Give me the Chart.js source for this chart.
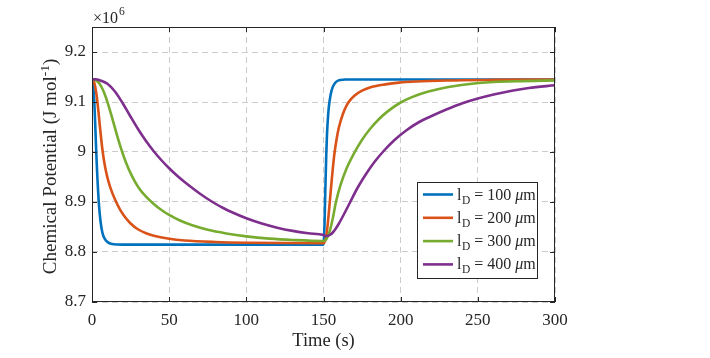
<!DOCTYPE html>
<html><head><meta charset="utf-8">
<script src="https://cdn.jsdelivr.net/npm/chart.js@4.4.0/dist/chart.umd.min.js"></script>
<style>html,body{margin:0;padding:0;background:#fff}canvas{display:block}</style>
</head><body>
<canvas id="c" width="710" height="358"></canvas>
<script>
// ---- data (values in units of 10^6 J/mol) ----
const legendLengths = ['100', '200', '300', '400'];

const t100 = [0,0.5,1,1.5,2,2.5,3,3.5,4,4.6,5.5,6.5,7.5,9,11,13,16,20,60,100,150,150.3,150.7,151,151.4,151.8,152.2,152.7,153.3,154,155,156,157.5,159,161,164,200,250,300];
const v100 = [9.145,9.14,9.125,9.1,9.0625,9.02,8.982,8.948,8.919,8.891,8.862,8.842,8.831,8.823,8.818,8.816,8.815,8.8148,8.8148,8.8148,8.8148,8.825,8.86,8.9,8.95,8.995,9.03,9.06,9.085,9.103,9.12,9.13,9.138,9.142,9.144,9.145,9.145,9.145,9.145];

const t200 = [0,1,2,3,4,5,6,7,8.5,10,12,15,18,21,25,30,35,40,50,60,80,100,150,151,152,153,154,155,156,157,158.5,160,162.5,165,167,170,175,181,190,199,210,230,260,300];
const v200 = [9.145,9.142,9.132,9.113,9.086,9.055,9.025,8.999,8.9698,8.9488,8.9278,8.9044,8.8858,8.8714,8.857,8.845,8.8375,8.8325,8.8265,8.823,8.82,8.8186,8.8176,8.8216,8.8356,8.8636,8.8976,8.9326,8.9656,8.9946,9.0261,9.0494,9.0756,9.0931,9.1027,9.1126,9.1226,9.1298,9.1352,9.1388,9.141,9.143,9.1442,9.145];

const t300 = [0,2,4,6,8,10,13,16,19,22,26,30,35,40,45,50,57,65,75,87,100,115,130,150,151,152,154,156,158,161,165,170,175,180,186,192,200,210,218,230,249,275,300];
const v300 = [9.145,9.144,9.14,9.131,9.1174,9.0998,9.0689,9.0359,9.0053,8.9792,8.9512,8.9296,8.9106,8.8961,8.8841,8.8741,8.8629,8.8533,8.8443,8.8371,8.8313,8.8268,8.8241,8.8221,8.8231,8.8261,8.8411,8.8671,8.8991,8.9336,8.9676,8.9986,9.0246,9.0456,9.066,9.0822,9.099,9.113,9.121,9.1296,9.1376,9.1415,9.1433];

const t400 = [0,2.5,5,10,15,20,25,30,35,40,45,50,55,60,65,70,75,80,85,90,100,110,120,130,140,150,151,152,153,154,156,158,160,163,167,172,178,183,189,196,204,212,219,230,240,250,261,272,283,300];
const v400 = [9.145,9.1456,9.1435,9.1365,9.1205,9.097,9.0705,9.045,9.022,9.0015,8.9835,8.9675,8.953,8.94,8.928,8.9165,8.906,8.8965,8.888,8.8805,8.8675,8.857,8.8487,8.8423,8.8375,8.8339,8.8325,8.832,8.8325,8.834,8.839,8.847,8.857,8.874,8.898,8.928,8.958,8.98,9.002,9.024,9.044,9.06,9.0705,9.0855,9.0975,9.107,9.1155,9.1225,9.128,9.1335];

const xTicks = [0,50,100,150,200,250,300];
const xTickLabels = ['0','50','100','150','200','250','300'];
const yTicks = [8.7,8.8,8.9,9.0,9.1,9.2];
const yTickLabels = ['8.7','8.8','8.9','9','9.1','9.2'];

const xTitle = 'Time (s)';
const yTitleMain = 'Chemical Potential (J mol';
const yTitleSup = '-1';
const yTitleEnd = ')';
const exponentBase = '\u00d710';
const exponentSup = '6';

const colors = ['#0072BD','#D95319','#77AC30','#7E2F8E'];
const FONT = "'Liberation Serif', 'Times New Roman', serif";
const TEXT = '#262626';

const times = [t100, t200, t300, t400];
const values = [v100, v200, v300, v400];

const datasets = values.map((vals, i) => ({
  label: 'lD = ' + legendLengths[i] + ' \u03bcm',
  data: vals.map((v, k) => ({x: times[i][k], y: v})),
  borderColor: colors[i],
  backgroundColor: colors[i],
  borderWidth: 2.6,
  pointRadius: 0,
  fill: false,
  cubicInterpolationMode: 'monotone',
  order: 3 - i
}));

const deco = {
  id: 'deco',
  afterDatasetsDraw(chart) {
    const {ctx, chartArea: a, scales: {x, y}} = chart;
    ctx.save();
    ctx.strokeStyle = TEXT;
    ctx.lineWidth = 1;
    ctx.strokeRect(a.left + 0.5, a.top + 0.5, a.right - a.left - 1, a.bottom - a.top - 1);
    const tl = 5;
    ctx.beginPath();
    xTicks.forEach(v => {
      const px = Math.round(x.getPixelForValue(v)) + 0.5;
      ctx.moveTo(px, a.bottom); ctx.lineTo(px, a.bottom - tl);
      ctx.moveTo(px, a.top); ctx.lineTo(px, a.top + tl);
    });
    yTicks.forEach(v => {
      const py = Math.round(y.getPixelForValue(v)) + 0.5;
      ctx.moveTo(a.left, py); ctx.lineTo(a.left + tl, py);
      ctx.moveTo(a.right, py); ctx.lineTo(a.right - tl, py);
    });
    ctx.stroke();
    ctx.restore();
  },
  afterDraw(chart) {
    const {ctx, chartArea: a} = chart;
    ctx.save();
    ctx.fillStyle = TEXT;
    // x title
    ctx.font = '18.5px ' + FONT;
    ctx.textAlign = 'center';
    ctx.textBaseline = 'middle';
    ctx.fillText(xTitle, (a.left + a.right) / 2, 341);
    // y title (rotated, with superscript)
    ctx.save();
    ctx.translate(50, (a.top + a.bottom) / 2 + 2);
    ctx.rotate(-Math.PI / 2);
    ctx.font = '19px ' + FONT;
    const w1 = ctx.measureText(yTitleMain).width;
    const w3 = ctx.measureText(yTitleEnd).width;
    ctx.font = '13.5px ' + FONT;
    const w2 = ctx.measureText(yTitleSup).width;
    const total = w1 + w2 + w3;
    let sx = -total / 2;
    ctx.textAlign = 'left';
    ctx.textBaseline = 'alphabetic';
    ctx.font = '19px ' + FONT;
    ctx.fillText(yTitleMain, sx, 6);
    ctx.font = '13.5px ' + FONT;
    ctx.fillText(yTitleSup, sx + w1, -1);
    ctx.font = '19px ' + FONT;
    ctx.fillText(yTitleEnd, sx + w1 + w2, 6);
    ctx.restore();
    // exponent
    ctx.textAlign = 'left';
    ctx.textBaseline = 'alphabetic';
    ctx.font = '16px ' + FONT;
    ctx.fillText(exponentBase, a.left + 1, 23);
    const we = ctx.measureText(exponentBase).width;
    ctx.font = '11.5px ' + FONT;
    ctx.fillText(exponentSup, a.left + 1 + we + 1, 15);
    // legend
    const bx = a.right - 18, by = a.bottom - 24;
    const bw = 120, bh = 96;
    const L = bx - bw, T = by - bh;
    ctx.fillStyle = '#ffffff';
    ctx.fillRect(L, T, bw, bh);
    ctx.strokeStyle = TEXT;
    ctx.lineWidth = 1;
    ctx.strokeRect(L + 0.5, T + 0.5, bw, bh);
    legendLengths.forEach((len, i) => {
      const ry = T + 12.5 + i * 23.3;
      ctx.strokeStyle = colors[i];
      ctx.lineWidth = 2.6;
      ctx.beginPath();
      ctx.moveTo(L + 6, ry); ctx.lineTo(L + 36, ry);
      ctx.stroke();
      ctx.fillStyle = TEXT;
      let tx = L + 40;
      const base = ry + 5;
      ctx.font = '16px ' + FONT;
      ctx.fillText('l', tx, base); tx += ctx.measureText('l').width + 0.5;
      ctx.font = '11.5px ' + FONT;
      ctx.fillText('D', tx, base + 4); tx += ctx.measureText('D').width;
      ctx.font = '16px ' + FONT;
      const mid = ' = ' + len + ' ';
      ctx.fillText(mid, tx, base); tx += ctx.measureText(mid).width;
      ctx.font = 'italic 16px ' + FONT;
      ctx.fillText('\u03bc', tx, base); tx += ctx.measureText('\u03bc').width;
      ctx.font = '16px ' + FONT;
      ctx.fillText('m', tx, base);
    });
    ctx.restore();
  }
};

new Chart(document.getElementById('c'), {
  type: 'line',
  data: {datasets},
  plugins: [deco],
  options: {
    responsive: false,
    animation: false,
    devicePixelRatio: 1,
    layout: {padding: {left: 0, right: 155, top: 27, bottom: 0}},
    plugins: {legend: {display: false}, tooltip: {enabled: false}},
    scales: {
      x: {
        type: 'linear', min: 0, max: 300,
        afterBuildTicks: s => { s.ticks = xTicks.map(v => ({value: v})); },
        afterFit: s => { s.height = 56; },
        grid: {color: '#cccccc', lineWidth: 1, drawTicks: false},
        border: {display: false, dash: [6, 4]},
        ticks: {padding: 8, color: TEXT, font: {family: FONT, size: 17}, maxRotation: 0, autoSkip: false,
                callback: (v, i) => xTickLabels[i]}
      },
      y: {
        type: 'linear', min: 8.7, max: 9.25,
        afterBuildTicks: s => { s.ticks = yTicks.map(v => ({value: v})); },
        afterFit: s => { s.width = 92; },
        grid: {color: '#cccccc', lineWidth: 1, drawTicks: false},
        border: {display: false, dash: [6, 4]},
        ticks: {padding: 6, color: TEXT, font: {family: FONT, size: 17}, autoSkip: false,
                callback: (v, i) => yTickLabels[i]}
      }
    }
  }
});
</script>
</body></html>
